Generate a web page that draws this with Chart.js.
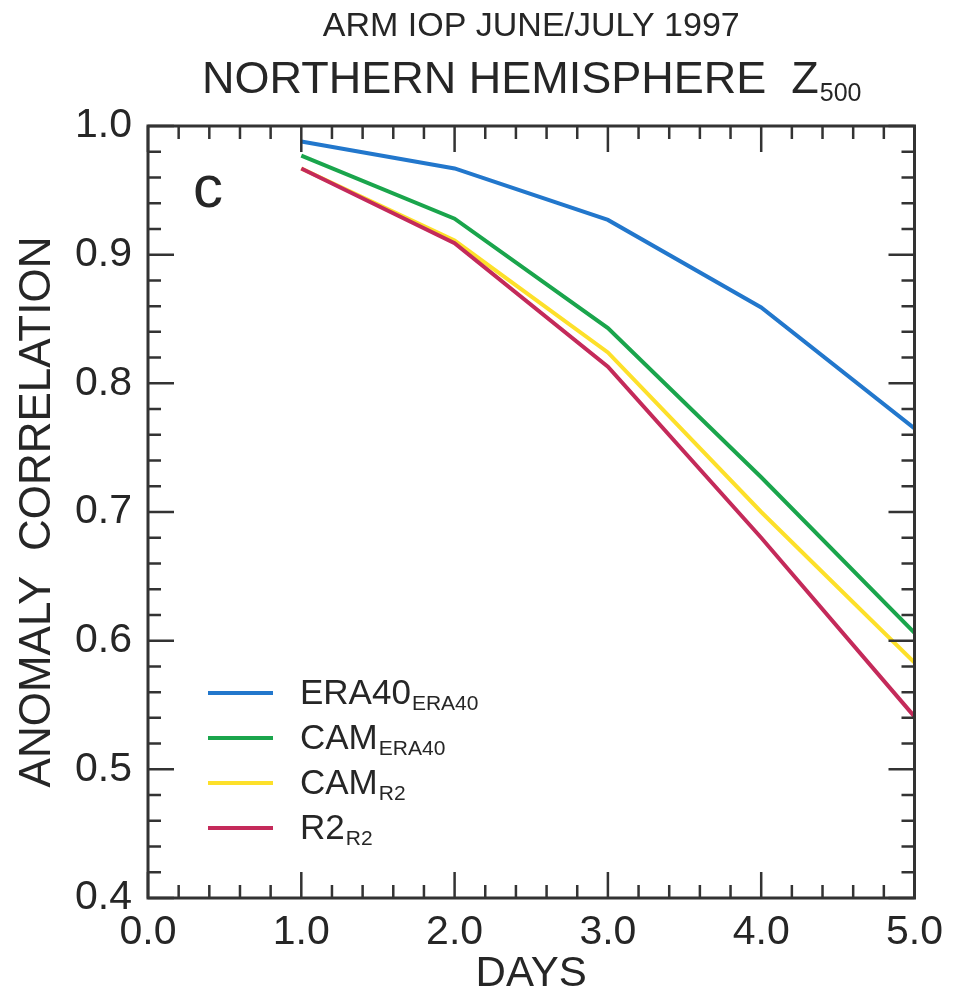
<!DOCTYPE html>
<html>
<head>
<meta charset="utf-8">
<script src="https://cdn.jsdelivr.net/npm/chart.js@4"></script>
<style>
  html, body { margin: 0; padding: 0; background: #fff; }
  #wrap { width: 953px; height: 995px; }
</style>
</head>
<body>
<div id="wrap"><canvas id="myChart" width="953" height="995"></canvas></div>
<script>
// forecast day and anomaly correlation of each run
const days = [1, 2, 3, 4, 5];
const era40Era40 = [0.988, 0.967, 0.927, 0.859, 0.765];
const camEra40 = [0.977, 0.928, 0.843, 0.727, 0.606];
const camR2 = [0.967, 0.911, 0.824, 0.700, 0.583];
const r2R2 = [0.967, 0.909, 0.813, 0.680, 0.541];

// legend names are written as name + subscript
const seriesMain = ['ERA40', 'CAM', 'CAM', 'R2'];
const seriesSub = ['ERA40', 'ERA40', 'R2', 'R2'];
const seriesColors = ['#2277cc', '#1aa54c', '#fde02a', '#c42a5a'];
const seriesValues = [era40Era40, camEra40, camR2, r2R2];
const drawOrder = [1, 2, 4, 3];

const titleTop = 'ARM IOP JUNE/JULY 1997';
const titleMain = 'NORTHERN HEMISPHERE  Z';
const titleSub = '500';
const panelLetter = 'c';

const FONT = '"Liberation Sans", Arial, Helvetica, sans-serif';
const INK = '#262626';

// titles above the box and the panel letter inside it
const titles = {
  id: 'titles',
  afterDraw(chart) {
    const {ctx, chartArea: a} = chart;
    const cx = (a.left + a.right) / 2;
    ctx.save();
    ctx.fillStyle = INK;
    ctx.textBaseline = 'alphabetic';
    ctx.textAlign = 'center';
    ctx.font = '34px ' + FONT;
    ctx.fillText(titleTop, cx, 36);

    ctx.textAlign = 'left';
    ctx.font = '45px ' + FONT;
    const wMain = ctx.measureText(titleMain).width;
    ctx.font = '25px ' + FONT;
    const wSub = ctx.measureText(titleSub).width;
    const x0 = cx - (wMain + wSub) / 2;
    ctx.font = '45px ' + FONT;
    ctx.fillText(titleMain, x0, 93);
    ctx.font = '25px ' + FONT;
    ctx.fillText(titleSub, x0 + wMain + 1, 101);

    ctx.font = '60px ' + FONT;
    ctx.fillText(panelLetter, a.left + 45, a.top + 81);
    ctx.restore();
  }
};

// box frame with inward ticks on all four sides
const boxTicks = {
  id: 'boxTicks',
  afterDatasetsDraw(chart) {
    const {ctx, chartArea: a, scales: {x, y}} = chart;
    ctx.save();
    ctx.strokeStyle = '#333';
    ctx.lineWidth = 3;
    ctx.strokeRect(a.left, a.top, a.right - a.left, a.bottom - a.top);
    ctx.lineWidth = 2.5;
    ctx.beginPath();
    for (let i = 0; i <= 25; i++) {
      const px = x.getPixelForValue(i * 0.2);
      const len = i % 5 === 0 ? 26 : 13;
      ctx.moveTo(px, a.bottom); ctx.lineTo(px, a.bottom - len);
      ctx.moveTo(px, a.top); ctx.lineTo(px, a.top + len);
    }
    for (let i = 0; i <= 30; i++) {
      const py = y.getPixelForValue(0.4 + i * 0.02);
      const len = i % 5 === 0 ? 26 : 13;
      ctx.moveTo(a.left, py); ctx.lineTo(a.left + len, py);
      ctx.moveTo(a.right, py); ctx.lineTo(a.right - len, py);
    }
    ctx.stroke();
    ctx.restore();
  }
};

// legend with subscripted names, lower left of the box
const subLegend = {
  id: 'subLegend',
  afterDraw(chart) {
    const {ctx, chartArea: a} = chart;
    ctx.save();
    ctx.textBaseline = 'alphabetic';
    ctx.textAlign = 'left';
    chart.data.datasets.forEach((ds, i) => {
      const yy = 693 + i * 45;
      ctx.strokeStyle = ds.borderColor;
      ctx.lineWidth = 4;
      ctx.beginPath();
      ctx.moveTo(a.left + 60, yy);
      ctx.lineTo(a.left + 125, yy);
      ctx.stroke();
      ctx.fillStyle = INK;
      ctx.font = '35px ' + FONT;
      const tx = a.left + 152;
      ctx.fillText(seriesMain[i], tx, yy + 11);
      const w = ctx.measureText(seriesMain[i]).width;
      ctx.font = '21px ' + FONT;
      ctx.fillText(seriesSub[i], tx + w + 1, yy + 17);
    });
    ctx.restore();
  }
};

const ctx = document.getElementById('myChart').getContext('2d');
new Chart(ctx, {
  type: 'line',
  data: {
    datasets: seriesValues.map((vals, i) => ({
      label: seriesMain[i] + seriesSub[i],
      data: days.map((d, j) => ({x: d, y: vals[j]})),
      borderColor: seriesColors[i],
      backgroundColor: seriesColors[i],
      borderWidth: 4,
      pointRadius: 0,
      tension: 0,
      order: drawOrder[i]
    }))
  },
  options: {
    responsive: false,
    animation: false,
    layout: { padding: { top: 126, right: 35, left: 0, bottom: 0 } },
    plugins: {
      legend: { display: false },
      tooltip: { enabled: false }
    },
    scales: {
      x: {
        type: 'linear',
        min: 0,
        max: 5,
        grid: { display: false, drawTicks: false },
        border: { display: false },
        ticks: {
          stepSize: 1,
          maxRotation: 0,
          autoSkip: false,
          padding: 10,
          color: INK,
          font: { family: FONT, size: 41 },
          callback: v => v.toFixed(1)
        },
        title: {
          display: true,
          text: 'DAYS',
          color: INK,
          font: { family: FONT, size: 42, lineHeight: 1 },
          padding: { top: 0, bottom: 0 }
        },
        afterFit(scale) { scale.height = 97; }
      },
      y: {
        min: 0.4,
        max: 1.0,
        grid: { display: false, drawTicks: false },
        border: { display: false },
        ticks: {
          stepSize: 0.1,
          padding: 16,
          color: INK,
          font: { family: FONT, size: 41 },
          callback: v => v.toFixed(1)
        },
        title: {
          display: true,
          text: 'ANOMALY  CORRELATION',
          color: INK,
          font: { family: FONT, size: 44, lineHeight: 1 },
          padding: { top: 16, bottom: 0 }
        },
        afterFit(scale) { scale.width = 148; }
      }
    }
  },
  plugins: [boxTicks, subLegend, titles]
});
</script>
</body>
</html>
